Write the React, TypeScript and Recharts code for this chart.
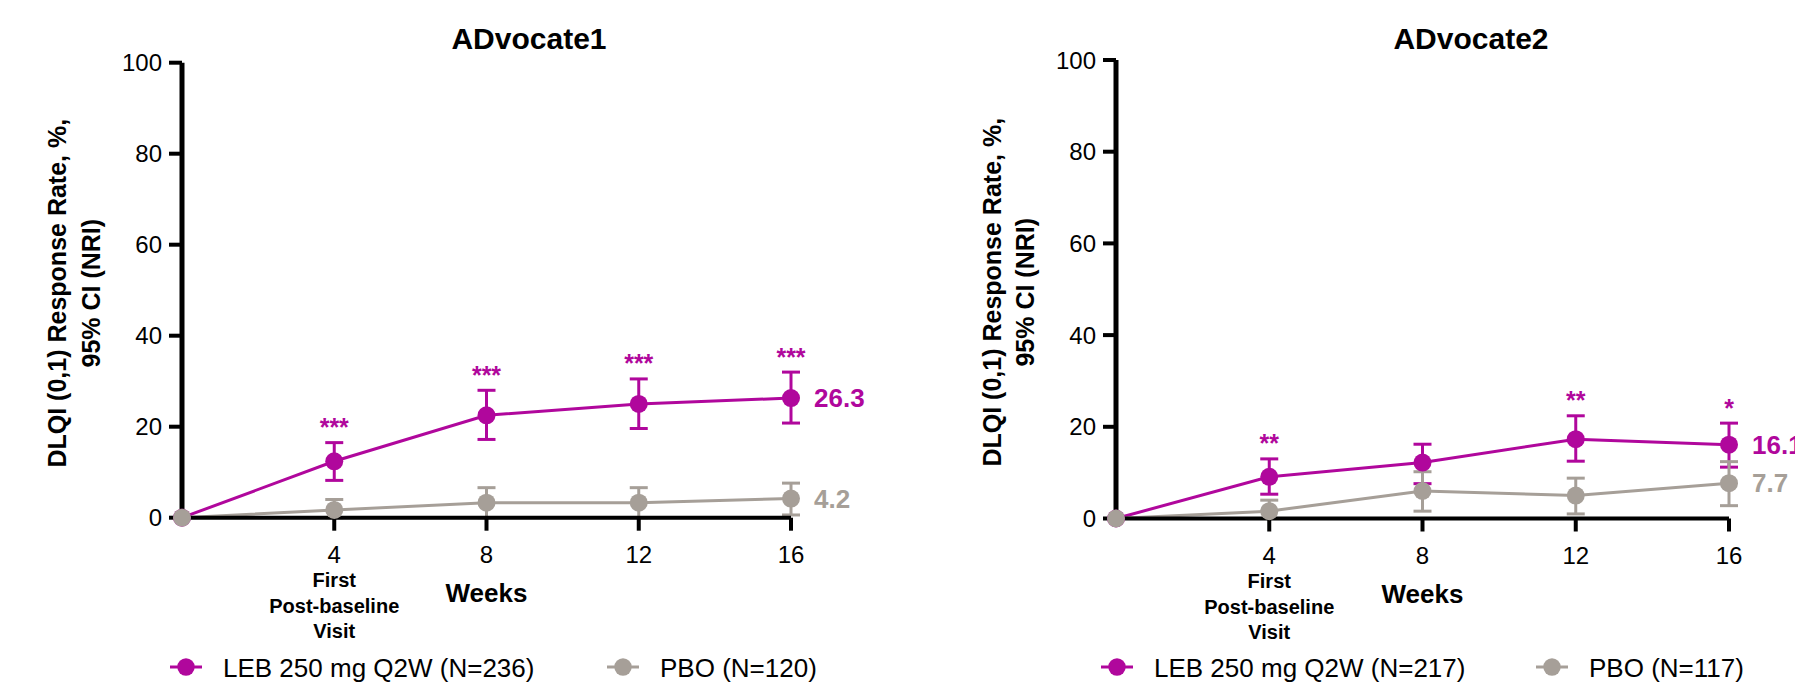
import React from 'react';
import { LineChart, Line, XAxis, YAxis, ErrorBar, LabelList, Legend } from 'recharts';

const weeks = [0, 4, 8, 12, 16];
const xTicks = [4, 8, 12, 16];
const yTicks = [0, 20, 40, 60, 80, 100];

// ADvocate1
const leb1 = [0, 12.4, 22.5, 25.0, 26.3];
const leb1Low = [0, 8.2, 17.2, 19.6, 20.8];
const leb1High = [0, 16.5, 28.0, 30.5, 32.0];
const pbo1 = [0, 1.7, 3.3, 3.3, 4.2];
const pbo1Low = [0, 0, 0, 0, 0.6];
const pbo1High = [0, 4.0, 6.6, 6.6, 7.6];
const stars1 = ['', '***', '***', '***', '***'];

// ADvocate2
const leb2 = [0, 9.1, 12.2, 17.3, 16.1];
const leb2Low = [0, 5.3, 7.6, 12.5, 11.2];
const leb2High = [0, 13.0, 16.2, 22.4, 20.8];
const pbo2 = [0, 1.6, 6.0, 5.0, 7.7];
const pbo2Low = [0, 0, 1.6, 1.0, 2.8];
const pbo2High = [0, 4.0, 10.2, 8.8, 12.4];
const stars2 = ['', '**', '', '**', '*'];

const MAGENTA = '#B0079C';
const GREY = '#A69F98';
const FONT = '"Liberation Sans", Arial, Helvetica, sans-serif';
const H = 684;
const XAXIS_H = 30;

function makeRows(leb: number[], lebLow: number[], lebHigh: number[], pbo: number[], pboLow: number[], pboHigh: number[], stars: string[]) {
  const last = weeks.length - 1;
  return weeks.map((week, i) => ({
    week,
    leb: leb[i],
    lebErr: [leb[i] - lebLow[i], lebHigh[i] - leb[i]],
    lebTop: lebHigh[i],
    stars: stars[i],
    lebEnd: i === last ? leb[i].toFixed(1) : '',
    pbo: pbo[i],
    pboErr: [pbo[i] - pboLow[i], pboHigh[i] - pbo[i]],
    pboEnd: i === last ? pbo[i].toFixed(1) : '',
  }));
}

const rows1 = makeRows(leb1, leb1Low, leb1High, pbo1, pbo1Low, pbo1High, stars1);
const rows2 = makeRows(leb2, leb2Low, leb2High, pbo2, pbo2Low, pbo2High, stars2);

const XTick = (props: any) => {
  const { x, y, payload } = props;
  return (
    <g fontFamily={FONT} fill="#000">
      <text x={x} y={y + 32.6} textAnchor="middle" fontSize={24}>{payload.value}</text>
      {payload.value === 4 && (
        <g fontWeight="bold" fontSize={20}>
          <text x={x} y={y + 56.6} textAnchor="middle">First</text>
          <text x={x} y={y + 82} textAnchor="middle">Post-baseline</text>
          <text x={x} y={y + 107.6} textAnchor="middle">Visit</text>
        </g>
      )}
    </g>
  );
};

const endLabel = (color: string) => (p: any) => {
  if (!p.value) return null;
  const x = p.viewBox?.x ?? p.x;
  const y = p.viewBox?.y ?? p.y;
  return (
    <text x={x + 23} y={y + 9.3} fill={color} fontSize={26} fontWeight="bold" fontFamily={FONT}>
      {p.value}
    </text>
  );
};

const starLabel = (p: any) => {
  if (!p.value) return null;
  const x = p.viewBox?.x ?? p.x;
  const y = p.viewBox?.y ?? p.y;
  return (
    <text x={x} y={y - 6.5} textAnchor="middle" fill={MAGENTA} fontSize={25} fontWeight="bold" fontFamily={FONT}>
      {p.value}
    </text>
  );
};

const legendContent = (gap: number) => (props: any) => {
  const items = (props.payload || []).filter((p: any) => p.type !== 'none');
  return (
    <svg width={700} height={34}>
      {items.map((p: any, i: number) => {
        const cx = 16 + i * gap;
        return (
          <g key={p.value}>
            <line x1={cx - 16} x2={cx + 16} y1={15} y2={15} stroke={p.color} strokeWidth={3} />
            <circle cx={cx} cy={15} r={8.7} fill={p.color} />
            <text x={cx + 37} y={25} fontSize={26} fontFamily={FONT} fill="#000">{p.value}</text>
          </g>
        );
      })}
    </svg>
  );
};

interface PanelProps {
  left: number;
  width: number;
  rows: any[];
  title: string;
  titleX: number;
  lebName: string;
  pboName: string;
  axisX: number;
  plotRight: number;
  yTop: number;
  yBottom: number;
  legendX: number;
  legendGap: number;
}

function Panel({ left, width, rows, title, titleX, lebName, pboName, axisX, plotRight, yTop, yBottom, legendX, legendGap }: PanelProps) {
  return (
    <div style={{ position: 'absolute', left, top: 0, width, height: H }}>
      <LineChart
        width={width}
        height={H}
        data={rows}
        margin={{ top: yTop, right: width - plotRight, bottom: H - yBottom - XAXIS_H, left: 0 }}
      >
        <XAxis
          dataKey="week"
          type="number"
          domain={[0, 16]}
          ticks={xTicks}
          height={XAXIS_H}
          axisLine={{ stroke: '#000', strokeWidth: 4 }}
          tickLine={{ stroke: '#000', strokeWidth: 4 }}
          tickSize={13}
          tickMargin={0}
          tick={<XTick />}
          label={{
            content: (p: any) => {
              const vb = p.viewBox;
              return (
                <text x={vb.x + vb.width / 2} y={vb.y + 84} textAnchor="middle" fontSize={26} fontWeight="bold" fontFamily={FONT} fill="#000">
                  Weeks
                </text>
              );
            },
          }}
        />
        <YAxis
          type="number"
          domain={[0, 100]}
          ticks={yTicks}
          width={axisX}
          axisLine={{ stroke: '#000', strokeWidth: 5 }}
          tickLine={{ stroke: '#000', strokeWidth: 4 }}
          tickSize={13}
          tickMargin={7}
          tick={{ fontSize: 24, fill: '#000', fontFamily: FONT }}
          label={{
            content: (p: any) => {
              const vb = p.viewBox;
              const cy = vb.y + vb.height / 2 + 3;
              const x1 = vb.x + vb.width - 115.5;
              const x2 = vb.x + vb.width - 82.3;
              return (
                <g fontSize={25} fontWeight="bold" fontFamily={FONT} fill="#000">
                  <text x={x1} y={cy} textAnchor="middle" transform={`rotate(-90, ${x1}, ${cy})`}>
                    DLQI (0,1) Response Rate, %,
                  </text>
                  <text x={x2} y={cy} textAnchor="middle" transform={`rotate(-90, ${x2}, ${cy})`}>
                    95% CI (NRI)
                  </text>
                </g>
              );
            },
          }}
        />
        <Line
          dataKey="leb"
          name={lebName}
          type="linear"
          stroke={MAGENTA}
          strokeWidth={3}
          dot={{ r: 9, fill: MAGENTA, stroke: MAGENTA, strokeWidth: 0 }}
          activeDot={false}
          isAnimationActive={false}
        >
          <ErrorBar dataKey="lebErr" direction="y" width={9} stroke={MAGENTA} strokeWidth={3} />
          <LabelList dataKey="lebEnd" content={endLabel(MAGENTA)} />
        </Line>
        <Line
          dataKey="pbo"
          name={pboName}
          type="linear"
          stroke={GREY}
          strokeWidth={3}
          dot={{ r: 9, fill: GREY, stroke: GREY, strokeWidth: 0 }}
          activeDot={false}
          isAnimationActive={false}
        >
          <ErrorBar dataKey="pboErr" direction="y" width={9} stroke={GREY} strokeWidth={3} />
          <LabelList dataKey="pboEnd" content={endLabel(GREY)} />
        </Line>
        <Line
          dataKey="lebTop"
          stroke="transparent"
          dot={false}
          activeDot={false}
          legendType="none"
          isAnimationActive={false}
        >
          <LabelList dataKey="stars" content={starLabel} />
        </Line>
        <Legend
          layout="horizontal"
          align="center"
          verticalAlign="middle"
          content={legendContent(legendGap)}
          wrapperStyle={{ left: legendX - 16, top: 652, width: 700, height: 34 }}
        />
      </LineChart>
      <svg style={{ position: 'absolute', left: 0, top: 0 }} width={width} height={60}>
        <text x={titleX} y={49} textAnchor="middle" fontSize={30} fontWeight="bold" fontFamily={FONT} fill="#000">
          {title}
        </text>
      </svg>
    </div>
  );
}

export default function App() {
  return (
    <div style={{ position: 'absolute', left: 0, top: 0, width: 1795, height: H, background: '#fff', overflow: 'hidden', fontFamily: FONT }}>
      <Panel
        left={0}
        width={900}
        rows={rows1}
        title="ADvocate1"
        titleX={529}
        lebName="LEB 250 mg Q2W (N=236)"
        pboName="PBO (N=120)"
        axisX={182}
        plotRight={791}
        yTop={62.7}
        yBottom={517.7}
        legendX={186}
        legendGap={437}
      />
      <Panel
        left={900}
        width={895}
        rows={rows2}
        title="ADvocate2"
        titleX={571}
        lebName="LEB 250 mg Q2W (N=217)"
        pboName="PBO (N=117)"
        axisX={216}
        plotRight={829}
        yTop={60}
        yBottom={518.5}
        legendX={217}
        legendGap={435}
      />
    </div>
  );
}
